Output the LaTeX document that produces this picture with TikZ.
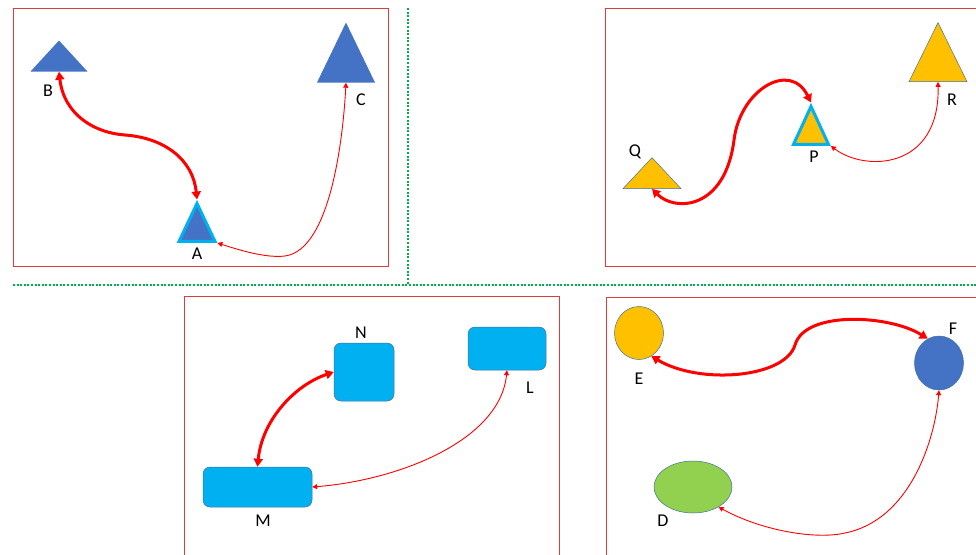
\documentclass[tikz,border=0pt]{standalone}
\usepackage{fontspec}
\setmainfont{Carlito}
\usetikzlibrary{shapes.geometric,arrows.meta}
\definecolor{triblue}{HTML}{4472C4}
\definecolor{triorange}{HTML}{FFC000}
\definecolor{boxcyan}{HTML}{00B0F0}
\definecolor{ellgreen}{HTML}{92D050}
\definecolor{panelred}{RGB}{222,60,60}
\definecolor{outl}{HTML}{41719C}
\definecolor{dotgreen}{HTML}{00B050}
\definecolor{arrred}{HTML}{FF0000}
\tikzset{
  panel/.style={draw=panelred, line width=0.9pt},
  sep/.style={draw=dotgreen, line width=2.8pt, dash pattern=on 2pt off 1.6pt},
  tri/.style={isosceles triangle, shape border rotate=90, isosceles triangle stretches, inner sep=0pt, anchor=apex},
  bluetri/.style={tri, fill=triblue},
  orangetri/.style={tri, fill=triorange, draw=outl, line width=0.5pt},
  hilite/.style={draw=boxcyan, line width=3pt},
  rbox/.style={rectangle, rounded corners=7pt, fill=boxcyan, draw=outl, line width=0.5pt, inner sep=0pt},
  ell/.style={ellipse, draw=outl, line width=0.5pt, inner sep=0pt},
  lbl/.style={font=\fontsize{18}{18}\selectfont, inner sep=0pt},
  thickarr/.style={draw=arrred, line width=3pt, {Triangle[length=8pt,width=9pt]}-{Triangle[length=8pt,width=9pt]}},
  thinarr/.style={draw=arrred, line width=0.9pt, {Triangle[length=5pt,width=5pt]}-{Triangle[length=5pt,width=5pt]}}
}
\begin{document}
\begin{tikzpicture}[x=1pt,y=-1pt]
\useasboundingbox (0,0) rectangle (976,554);
\clip (0,0) rectangle (976,554);
\fill[white] (0,0) rectangle (976,554);
% panels
\draw[panel] (13,8) rectangle (388,266);
\draw[panel] (605,8) rectangle (990,266);
\draw[panel] (184,296) rectangle (559,570);
\draw[panel] (606,297) rectangle (990,570);
% separators
\draw[sep] (408,8) -- (408,285);
\draw[sep] (13,285) -- (976,285);

% top-left
\node[bluetri, minimum width=57pt, minimum height=31pt] (B) at (59,40) {};
\node[bluetri, minimum width=58pt, minimum height=60pt] (C) at (346,22) {};
\node[bluetri, hilite, minimum width=36pt, minimum height=38pt] (A) at (197,199.5) {};
\node[lbl] (lB) at (48,91) {B};
\node[lbl] (lC) at (361,100) {C};
\node[lbl] (lA) at (197,254) {A};
\coordinate (ba1) at (125,135);
\coordinate (ac1) at (285,256);
\draw[thickarr] (B.lower side) .. controls (64,115) and (95,133) .. (ba1) .. controls (165,138) and (193,160) .. (A.apex);
\draw[thinarr] (A.right corner) .. controls (245,252) and (268,258) .. (ac1) .. controls (330,250) and (343,140) .. (C.lower side);

% top-right
\node[orangetri, minimum width=58pt, minimum height=31pt] (Q) at (652,157) {};
\node[orangetri, minimum width=58pt, minimum height=59pt] (R) at (938,22) {};
\node[tri, fill=triorange, hilite, minimum width=35pt, minimum height=38pt] (P) at (811,102.5) {};
\node[lbl] (lQ) at (635,152) {Q};
\node[lbl] (lP) at (814,157) {P};
\node[lbl] (lR) at (952,100) {R};
\coordinate (qp1) at (734,140);
\draw[thickarr] (Q.lower side) .. controls (675,212) and (725,210) .. (qp1) .. controls (740,90) and (790,60) .. (P.apex);
\draw[thinarr] (P.right corner) .. controls (865,172) and (940,170) .. (R.lower side);

% bottom-left
\node[rbox, minimum width=60pt, minimum height=58pt] (N) at (364,372) {};
\node[rbox, minimum width=78pt, minimum height=43pt] (L) at (507,348.5) {};
\node[rbox, minimum width=109pt, minimum height=40pt] (M) at (257.5,487) {};
\node[lbl] (lN) at (361,333) {N};
\node[lbl] (lL) at (530,388) {L};
\node[lbl] (lM) at (263,521) {M};
\draw[thickarr] (M.north) .. controls (262,420) and (295,385) .. (N.west);
\draw[thinarr] (L.south) .. controls (500,440) and (400,480) .. (M.east);

% bottom-right
\node[ell, fill=triorange, minimum width=49pt, minimum height=53pt] (E) at (639,333) {};
\node[ell, fill=triblue, minimum width=49pt, minimum height=54pt] (F) at (939,363) {};
\node[ell, fill=ellgreen, minimum width=78pt, minimum height=52pt] (D) at (693,487) {};
\node[lbl] (lE) at (639,379) {E};
\node[lbl] (lF) at (953,329) {F};
\node[lbl] (lD) at (663,521) {D};
\coordinate (ef1) at (795,345);
\coordinate (df1) at (845,533);
\draw[thickarr] (E.-62) .. controls (700,385) and (785,378) .. (ef1) .. controls (805,310) and (890,315) .. (F.115);
\draw[thinarr] (D.-38) .. controls (760,530) and (815,540) .. (df1) .. controls (910,520) and (935,440) .. (F.south);
\end{tikzpicture}
\end{document}
